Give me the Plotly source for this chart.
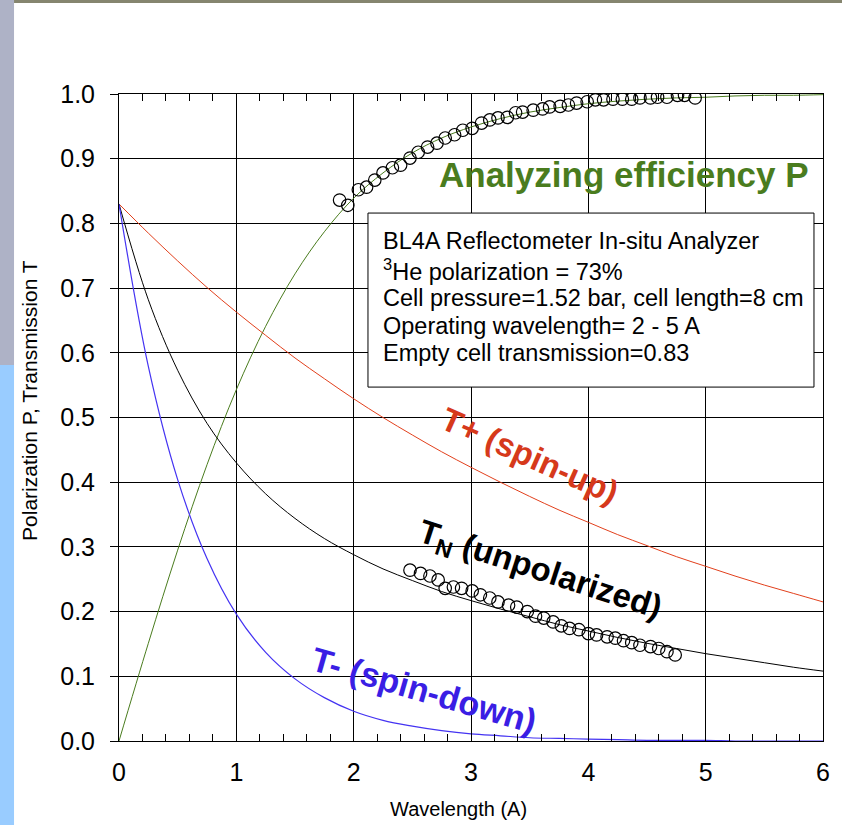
import plotly.graph_objects as go

# ---------------- data ----------------
wavelength = [0.00, 0.25, 0.50, 0.75, 1.00, 1.25, 1.50, 1.75, 2.00, 2.25, 2.50, 2.75,
              3.00, 3.25, 3.50, 3.75, 4.00, 4.25, 4.50, 4.75, 5.00, 5.25, 5.50, 5.75, 6.00]
P_analyzer = [0.000, 0.151, 0.295, 0.427, 0.543, 0.641, 0.722, 0.787, 0.839, 0.878, 0.909, 0.932,
              0.949, 0.962, 0.972, 0.979, 0.985, 0.989, 0.992, 0.994, 0.995, 0.997, 0.998, 0.998, 0.999]
T_plus = [0.830, 0.785, 0.742, 0.701, 0.663, 0.627, 0.592, 0.560, 0.529, 0.500, 0.473, 0.447,
          0.423, 0.400, 0.378, 0.357, 0.338, 0.319, 0.302, 0.285, 0.270, 0.255, 0.241, 0.228, 0.215]
T_N = [0.830, 0.682, 0.573, 0.491, 0.430, 0.382, 0.344, 0.313, 0.288, 0.266, 0.248, 0.231,
       0.217, 0.204, 0.192, 0.180, 0.170, 0.160, 0.151, 0.143, 0.135, 0.128, 0.121, 0.114, 0.108]
T_minus = [0.830, 0.579, 0.404, 0.282, 0.196, 0.137, 0.096, 0.067, 0.046, 0.032, 0.023, 0.016,
           0.011, 0.008, 0.005, 0.004, 0.003, 0.002, 0.001, 0.001, 0.001, 0.000, 0.000, 0.000, 0.000]

P_meas_x = [1.88, 1.95, 2.04, 2.11, 2.18, 2.25, 2.33, 2.40, 2.48, 2.55, 2.63, 2.71, 2.78, 2.86,
            2.93, 3.01, 3.09, 3.16, 3.23, 3.31, 3.38, 3.44, 3.53, 3.61, 3.67, 3.76, 3.83, 3.90,
            3.99, 4.06, 4.13, 4.21, 4.29, 4.37, 4.44, 4.53, 4.59, 4.67, 4.76, 4.82, 4.91]
P_meas_y = [0.836, 0.828, 0.852, 0.856, 0.867, 0.878, 0.886, 0.890, 0.901, 0.910, 0.918, 0.924,
            0.932, 0.937, 0.944, 0.947, 0.955, 0.960, 0.963, 0.964, 0.971, 0.972, 0.975, 0.977,
            0.980, 0.981, 0.983, 0.986, 0.988, 0.991, 0.991, 0.992, 0.992, 0.992, 0.994, 0.994,
            0.995, 0.995, 0.998, 0.998, 0.994]

TN_meas_x = [2.48, 2.57, 2.65, 2.72, 2.78, 2.85, 2.92, 3.01, 3.08, 3.16, 3.23, 3.32, 3.39, 3.48,
             3.55, 3.62, 3.70, 3.77, 3.84, 3.92, 4.00, 4.07, 4.16, 4.23, 4.30, 4.37, 4.44, 4.53,
             4.60, 4.67, 4.74]
TN_meas_y = [0.264, 0.259, 0.255, 0.249, 0.236, 0.238, 0.236, 0.232, 0.226, 0.221, 0.215, 0.210,
             0.207, 0.200, 0.193, 0.190, 0.184, 0.178, 0.174, 0.172, 0.166, 0.164, 0.161, 0.159,
             0.155, 0.152, 0.148, 0.146, 0.143, 0.138, 0.133]

x_ticks = [0, 1, 2, 3, 4, 5, 6]
y_ticks = [0.0, 0.1, 0.2, 0.3, 0.4, 0.5, 0.6, 0.7, 0.8, 0.9, 1.0]

x_title = "Wavelength (A)"
y_title = "Polarization P, Transmission T"

info_lines = [
    "BL4A Reflectometer In-situ Analyzer",
    "<sup>3</sup>He polarization = 73%",
    "Cell pressure=1.52 bar, cell length=8 cm",
    "Operating wavelength= 2 - 5 A",
    "Empty cell transmission=0.83",
]

# ---------------- styles ----------------
FONT = "Liberation Sans, Arial, sans-serif"
GREEN = "#4a7c1e"
RED_LINE = "#e2401c"
RED_TXT = "#d6391b"
BLUE_LINE = "#4433f2"
BLUE_TXT = "#3a1ee4"

fig = go.Figure()

fig.add_trace(go.Scatter(x=wavelength, y=P_analyzer, mode="lines", line=dict(color=GREEN, width=1, shape="spline"),
                         showlegend=False, hoverinfo="skip"))
fig.add_trace(go.Scatter(x=wavelength, y=T_plus, mode="lines", line=dict(color=RED_LINE, width=1, shape="spline"),
                         showlegend=False, hoverinfo="skip"))
fig.add_trace(go.Scatter(x=wavelength, y=T_N, mode="lines", line=dict(color="#000000", width=1, shape="spline"),
                         showlegend=False, hoverinfo="skip"))
fig.add_trace(go.Scatter(x=wavelength, y=T_minus, mode="lines", line=dict(color=BLUE_LINE, width=1.2, shape="spline"),
                         showlegend=False, hoverinfo="skip"))

marker_style = dict(symbol="circle-open", size=12.5, color="#000000", line=dict(width=1.2))
fig.add_trace(go.Scatter(x=P_meas_x, y=P_meas_y, mode="markers", marker=marker_style, showlegend=False))
fig.add_trace(go.Scatter(x=TN_meas_x, y=TN_meas_y, mode="markers", marker=marker_style, showlegend=False))

# info box
fig.add_shape(type="rect", xref="x", yref="y", x0=2.122, x1=5.923, y0=0.547, y1=0.816,
              line=dict(color="#000000", width=1), fillcolor="#ffffff", layer="above")
info_y = [0.773, 0.728, 0.685, 0.641, 0.600]
for txt, yy in zip(info_lines, info_y):
    fig.add_annotation(x=2.230, y=yy, xref="x", yref="y", text=txt, showarrow=False,
                       xanchor="left", yanchor="middle", font=dict(family=FONT, size=23.5, color="#000000"))

# curve labels
fig.add_annotation(x=4.30, y=0.876, text="<b>Analyzing efficiency P</b>", showarrow=False,
                   xanchor="center", yanchor="middle", font=dict(family=FONT, size=35, color=GREEN))
fig.add_annotation(x=3.50, y=0.441, text="<b>T+ (spin-up)</b>", showarrow=False, textangle=24,
                   font=dict(family=FONT, size=33, color=RED_TXT))
fig.add_annotation(x=3.58, y=0.262, text="<b>T<sub>N</sub> (unpolarized)</b>", showarrow=False, textangle=18,
                   font=dict(family=FONT, size=33, color="#000000"))
fig.add_annotation(x=2.60, y=0.079, text="<b>T- (spin-down)</b>", showarrow=False, textangle=16,
                   font=dict(family=FONT, size=34, color=BLUE_TXT))

# axis titles
fig.add_annotation(x=0.482, y=-0.105, xref="paper", yref="paper", text=x_title, showarrow=False,
                   xanchor="center", yanchor="middle", font=dict(family=FONT, size=20, color="#000000"))
fig.add_annotation(x=-0.128, y=0.527, xref="paper", yref="paper", text=y_title, showarrow=False,
                   textangle=-90, xanchor="center", yanchor="middle",
                   font=dict(family=FONT, size=21, color="#000000"))

# slide background remnants (left strip, top strip)
fig.add_shape(type="rect", xref="paper", yref="paper", x0=-0.17, x1=-0.1491, y0=0.5811, y1=1.16,
              line=dict(width=0), fillcolor="#aeb2c6", layer="below")
fig.add_shape(type="rect", xref="paper", yref="paper", x0=-0.17, x1=-0.1491, y0=-0.14, y1=0.5811,
              line=dict(width=0), fillcolor="#99ccff", layer="below")
fig.add_shape(type="rect", xref="paper", yref="paper", x0=-0.1491, x1=1.03, y0=1.1406, y1=1.16,
              line=dict(width=0), fillcolor="#85856f", layer="below")

fig.update_xaxes(
    range=[0, 6], tickmode="array", tickvals=x_ticks, ticktext=[str(v) for v in x_ticks],
    showgrid=True, gridcolor="#000000", gridwidth=1,
    showline=True, linecolor="#000000", linewidth=1, mirror="allticks",
    ticks="inside", ticklen=8, tickcolor="#000000",
    minor=dict(dtick=0.2, ticks="inside", ticklen=7, tickcolor="#000000", showgrid=False),
    tickfont=dict(family=FONT, size=25, color="#000000"),
    ticklabelstandoff=9,
    zeroline=False,
)
fig.update_yaxes(
    range=[0, 1], tickmode="array", tickvals=y_ticks, ticktext=[f"{v:.1f}" for v in y_ticks],
    showgrid=True, gridcolor="#000000", gridwidth=1,
    showline=True, linecolor="#000000", linewidth=1, mirror=True,
    ticks="outside", ticklen=8, tickcolor="#000000",
    tickfont=dict(family=FONT, size=25, color="#000000"),
    ticklabelstandoff=10,
    zeroline=False,
)

fig.update_layout(
    width=842, height=825,
    margin=dict(l=119, r=19, t=94, b=84, autoexpand=False),
    paper_bgcolor="#ffffff", plot_bgcolor="#ffffff",
    showlegend=False,
)

fig.write_html("out.html")
